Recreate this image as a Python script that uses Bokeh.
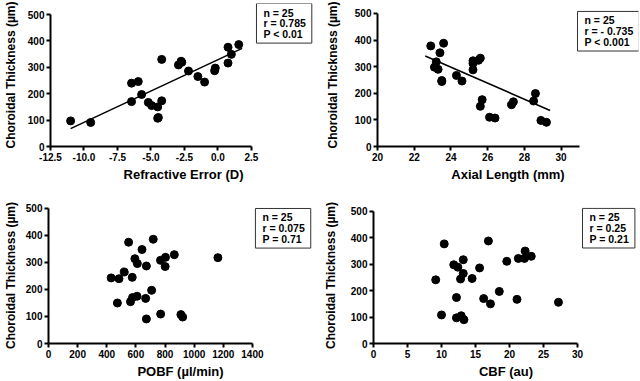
import numpy as np
from bokeh.plotting import figure
from bokeh.models import Range1d, FixedTicker, NumeralTickFormatter, Label
from bokeh.layouts import column, row
from bokeh.embed import file_html
from bokeh.resources import INLINE

# ---------------- data ----------------
# Panel A: Refractive error vs choroidal thickness
refractive_error = [-11.0, -9.5, -6.45, -5.95, -6.45, -5.7, -5.2, -4.95, -4.5, -4.5,
                    -4.45, -4.2, -4.2, -2.95, -2.7, -2.75, -2.2, -1.5, -1.0, -0.25,
                    -0.2, 0.75, 0.75, 1.0, 1.55]
thickness_re = [97, 91, 240, 246, 170, 197, 167, 155, 150, 107,
                110, 173, 330, 309, 319, 323, 286, 265, 244, 287,
                297, 376, 316, 349, 386]
re_fit_slope = 23.75
re_fit_intercept = 329.0
re_fit_x = [-11.0, 1.8]
re_stats = "n = 25\nr = 0.785\nP < 0.01"

# Panel B: Axial length
axial_length = [22.9, 23.6, 23.4, 23.2, 23.1, 23.3, 23.5, 23.5, 24.3, 24.6,
                25.2, 25.2, 25.2, 25.5, 25.6, 25.6, 25.7, 26.1, 26.4, 27.3,
                27.4, 28.5, 28.6, 28.9, 29.2]
thickness_al = [378, 388, 352, 318, 298, 290, 248, 244, 267, 246,
                322, 312, 288, 324, 332, 151, 176, 110, 107, 157,
                168, 171, 199, 98, 91]
al_fit_slope = -30.1
al_fit_intercept = 1020.5
al_fit_x = [22.6, 29.4]
al_stats = "n = 25\nr = - 0.735\nP < 0.001"

# Panel C: POBF
pobf = [430, 484, 520, 473, 550, 575, 563, 577, 593, 608,
        610, 642, 672, 667, 672, 708, 719, 769, 770, 803,
        801, 864, 909, 921, 1163]
thickness_pobf = [243, 240, 265, 150, 375, 245, 155, 170, 314, 175,
                  296, 348, 287, 167, 91, 197, 386, 308, 109, 319,
                  285, 329, 107, 98, 318]
pobf_stats = "n = 25\nr = 0.075\nP = 0.71"

# Panel D: CBF
cbf = [9.15, 10.0, 10.4, 11.8, 12.4, 12.2, 12.2, 12.8, 12.9, 13.2,
       13.2, 13.3, 14.5, 15.6, 16.2, 16.9, 17.2, 18.5, 19.6, 21.1,
       21.3, 22.2, 22.3, 23.2, 27.2]
thickness_cbf = [241, 108, 377, 298, 289, 174, 97, 244, 105, 317,
                 265, 90, 246, 286, 170, 388, 150, 197, 311, 167,
                 322, 322, 350, 330, 156]
cbf_stats = "n = 25\nr = 0.25\nP = 0.21"

y_axis_span = (0, 500)
y_ticks = [0, 100, 200, 300, 400, 500]
y_title = "Choroidal Thickness (µm)"

FONT = "Liberation Sans"


def make_panel(x, y, x_span, xticks, xfmt, xlabel, stats, size, geom,
               y_title_standoff, box_offset, fit=None):
    """geom = (frame_left, axis_right, frame_right, frame_top, axis_top, frame_bottom)
    in canvas pixels; the frame extends past the drawn axes so the stats box fits."""
    W, H = size
    fl, ar, fr, ft, at, fb = geom
    x0, x1 = x_span
    y0, y1 = y_axis_span
    x_end = x0 + (x1 - x0) * (fr - fl) / (ar - fl)
    y_end = y0 + (y1 - y0) * (fb - ft) / (fb - at)
    p = figure(width=W, height=H, output_backend="svg",
               toolbar_location=None, x_range=Range1d(x0, x_end),
               y_range=Range1d(y0, y_end),
               min_border_left=fl, min_border_right=W - fr,
               min_border_top=ft, min_border_bottom=H - fb)
    p.xgrid.visible = False
    p.ygrid.visible = False
    p.outline_line_color = None
    p.background_fill_color = "white"
    p.border_fill_color = "white"

    p.xaxis.ticker = FixedTicker(ticks=xticks)
    p.yaxis.ticker = FixedTicker(ticks=y_ticks)
    p.xaxis.bounds = (x0, x1)
    p.yaxis.bounds = (y0, y1)
    if xfmt:
        p.xaxis.formatter = NumeralTickFormatter(format=xfmt)
    p.xaxis.axis_label = xlabel
    p.yaxis.axis_label = y_title
    for ax in (p.xaxis[0], p.yaxis[0]):
        ax.axis_line_width = 2
        ax.axis_line_color = "black"
        ax.major_tick_line_width = 2
        ax.major_tick_line_color = "black"
        ax.major_tick_out = 4
        ax.major_tick_in = 0
        ax.minor_tick_line_color = None
        ax.major_label_text_font = FONT
        ax.major_label_text_font_style = "bold"
        ax.major_label_text_font_size = "10px"
        ax.major_label_text_color = "black"
        ax.major_label_standoff = 2
        ax.axis_label_text_font = FONT
        ax.axis_label_text_font_style = "bold"
        ax.axis_label_text_color = "black"
    p.xaxis.axis_label_text_font_size = "13px"
    p.yaxis.axis_label_text_font_size = "12px"
    p.xaxis.axis_label_standoff = 3
    p.yaxis.axis_label_standoff = y_title_standoff

    if fit is not None:
        slope, intercept, fx = fit
        fx = np.array(fx, dtype=float)
        p.line(fx, intercept + slope * fx, line_color="black", line_width=1.6)

    p.scatter(x, y, size=8, marker="circle", fill_color="black",
              line_color="black")

    lab = Label(x=x1, y=y1, x_units="data", y_units="data", text=stats,
                anchor="top_left", x_offset=box_offset[0], y_offset=box_offset[1],
                text_font=FONT, text_font_style="bold",
                text_font_size="10.5px", text_line_height=0.9,
                text_color="black", text_align="left",
                border_line_color="#333333", border_line_width=1,
                background_fill_color="white",
                padding=dict(left=7, right=6, top=3, bottom=3))
    p.add_layout(lab)
    return p


p1 = make_panel(refractive_error, thickness_re, (-12.5, 2.5),
                [-12.5, -10, -7.5, -5, -2.5, 0, 2.5], "0.0",
                "Refractive Error (D)", re_stats, (320, 190),
                (46, 250, 316, 3, 14, 146), 7, (5, 11),
                fit=(re_fit_slope, re_fit_intercept, re_fit_x))
p2 = make_panel(axial_length, thickness_al, (20, 31),
                [20, 22, 24, 26, 28, 30], None,
                "Axial Length (mm)", al_stats, (320, 190),
                (57, 259, 318, 3, 13, 147), 12, (-2, 2),
                fit=(al_fit_slope, al_fit_intercept, al_fit_x))
p3 = make_panel(pobf, thickness_pobf, (0, 1400),
                [0, 200, 400, 600, 800, 1000, 1200, 1400], None,
                "POBF (µl/min)", pobf_stats, (320, 191),
                (44, 251, 312, 17, 18, 156), 5, (3, 0))
p4 = make_panel(cbf, thickness_cbf, (0, 30),
                [0, 5, 10, 15, 20, 25, 30], None,
                "CBF (au)", cbf_stats, (320, 191),
                (53, 257, 318, 17, 21, 157), 10, (5, 3))

layout = column(row(p1, p2), row(p3, p4))

open("out.html", "w").write(file_html(layout, INLINE))
